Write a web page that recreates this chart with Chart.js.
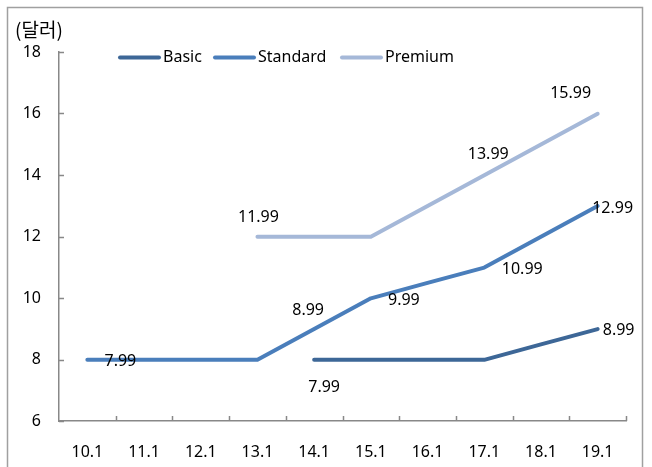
<!DOCTYPE html>
<html>
<head>
<meta charset="utf-8">
<script src="https://cdn.jsdelivr.net/npm/chart.js@4"></script>
<style>
  html, body { margin: 0; padding: 0; background: #fff; }
  #wrap { width: 652px; height: 467px; }
</style>
</head>
<body>
<div id="wrap"><canvas id="c" width="652" height="467"></canvas></div>
<script>
// 월별 요금 (달러)
let categories = ['10.1', '11.1', '12.1', '13.1', '14.1', '15.1', '16.1', '17.1', '18.1', '19.1'];
let basic    = [null, null, null, null, 7.99, 7.99, 7.99, 7.99, 8.49, 8.99];
let standard = [7.99, 7.99, 7.99, 7.99, 8.99, 9.99, 10.49, 10.99, 11.99, 12.99];
let premium  = [null, null, null, 11.99, 11.99, 11.99, 12.99, 13.99, 14.99, 15.99];
let yTicks = [6, 8, 10, 12, 14, 16, 18];

const FONT = '"Noto Sans", sans-serif';
const colors = ['#3d6797', '#4a7ebb', '#a5b8d8'];

// which points get a value label, and where it sits relative to the point
const labelSpots = [
    { 4: [10, 28], 9: [21, 1] },
    { 0: [33, 2], 4: [-6, -19], 5: [33, 2], 7: [38, 2], 9: [15, 2] },
    { 3: [1, -19], 7: [4, -21], 9: [-27, -20] }
];

const extras = {
    id: 'extras',
    beforeDraw(chart) {
        let ctx = chart.ctx;
        ctx.save();
        ctx.strokeStyle = '#a0a0a0';
        ctx.lineWidth = 1.5;
        ctx.strokeRect(7.5, 7.5, 635, 480);
        ctx.restore();
    },
    afterDraw(chart) {
        let ctx = chart.ctx;
        let x = chart.scales.x, y = chart.scales.y;
        ctx.save();

        // inward tick marks
        ctx.strokeStyle = '#888';
        ctx.lineWidth = 1.5;
        ctx.beginPath();
        yTicks.forEach(v => {
            let py = Math.round(y.getPixelForValue(v)) + 0.5;
            ctx.moveTo(x.left, py);
            ctx.lineTo(x.left + 5, py);
        });
        let step = (x.right - x.left) / categories.length;
        for (let i = 1; i <= categories.length; i++) {
            let px = Math.round(x.left + i * step) + 0.5;
            ctx.moveTo(px, y.bottom);
            ctx.lineTo(px, y.bottom - 5);
        }
        ctx.stroke();

        // value labels
        ctx.fillStyle = '#000';
        ctx.font = '16px ' + FONT;
        ctx.textAlign = 'center';
        ctx.textBaseline = 'middle';
        chart.data.datasets.forEach((ds, di) => {
            let meta = chart.getDatasetMeta(di);
            Object.keys(labelSpots[di]).forEach(k => {
                let pt = meta.data[k];
                let off = labelSpots[di][k];
                ctx.fillText(ds.data[k].toFixed(2), pt.x + off[0], pt.y + off[1]);
            });
        });

        // legend
        let lx = [120, 215, 342];
        chart.data.datasets.forEach((ds, di) => {
            ctx.strokeStyle = ds.borderColor;
            ctx.lineWidth = 4;
            ctx.lineCap = 'round';
            ctx.beginPath();
            ctx.moveTo(lx[di], 57.5);
            ctx.lineTo(lx[di] + 39, 57.5);
            ctx.stroke();
            ctx.textAlign = 'left';
            ctx.fillText(ds.label, lx[di] + 43, 57);
        });

        // unit
        ctx.font = '19px "Noto Sans CJK KR", sans-serif';
        ctx.fillText('(달러)', 15, 30);
        ctx.restore();
    }
};

function makeSet(label, data, color) {
    return {
        label: label,
        data: data,
        borderColor: color,
        backgroundColor: color,
        borderWidth: 4,
        borderCapStyle: 'round',
        borderJoinStyle: 'round',
        pointRadius: 0,
        tension: 0,
        spanGaps: false
    };
}

new Chart(document.getElementById('c'), {
    type: 'line',
    data: {
        labels: categories,
        datasets: [
            makeSet('Basic', basic, colors[0]),
            makeSet('Standard', standard, colors[1]),
            makeSet('Premium', premium, colors[2])
        ]
    },
    options: {
        responsive: false,
        animation: false,
        layout: { padding: { top: 52, right: 26, left: 0, bottom: 0 } },
        plugins: { legend: { display: false }, tooltip: { enabled: false } },
        scales: {
            x: {
                offset: true,
                grid: { display: false, drawTicks: false },
                border: { color: '#888', width: 1.5 },
                ticks: { color: '#000', font: { family: FONT, size: 16 }, padding: 22, maxRotation: 0 },
                afterFit: s => { s.height = 46; }
            },
            y: {
                min: 6,
                max: 18,
                afterBuildTicks: s => { s.ticks = yTicks.map(v => ({ value: v })); },
                grid: { display: false, drawTicks: false },
                border: { color: '#888', width: 1.5 },
                ticks: { color: '#000', font: { family: FONT, size: 16 }, padding: 18 },
                afterFit: s => { s.width = 59; }
            }
        }
    },
    plugins: [extras]
});
</script>
</body>
</html>
